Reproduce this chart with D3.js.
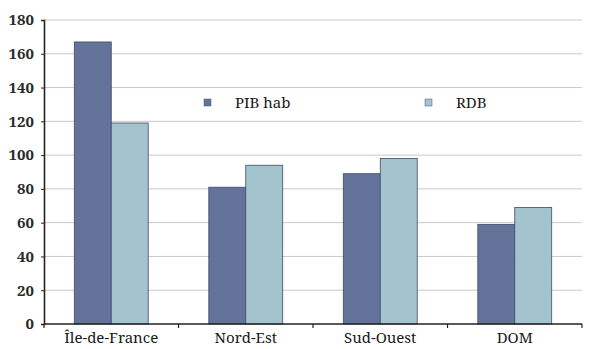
<!DOCTYPE html>
<html>
<head>
<meta charset="utf-8">
<script src="https://cdn.jsdelivr.net/npm/d3@7"></script>
<style>
  html, body { margin: 0; padding: 0; background: #fff; }
  svg { display: block; }
</style>
</head>
<body>
<svg id="chart" width="590" height="349"></svg>
<script>
// Regions and indices (base 100 = France)
const categories = ["Île-de-France", "Nord-Est", "Sud-Ouest", "DOM"];
const seriesNames = ["PIB hab", "RDB"];
const pibHab = [167, 81, 89, 59];
const rdb = [119, 94, 98, 69];
const yTicks = [0, 20, 40, 60, 80, 100, 120, 140, 160, 180];
const colors = ["#63739a", "#a3c4cc"];

const FONT = "Noto Serif";
const svg = d3.select("#chart");
const margin = { left: 44, right: 8, top: 20, bottom: 25 };
const width = 590, height = 349;

const x = d3.scaleBand().domain(categories)
  .range([margin.left, width - margin.right]).padding(0);
const xSub = d3.scaleBand().domain(seriesNames)
  .range([0, x.bandwidth()]).paddingInner(0).paddingOuter(0.82);
const y = d3.scaleLinear().domain([0, 180])
  .range([height - margin.bottom, margin.top]);

// Horizontal gridlines
svg.append("g").selectAll("line").data(yTicks.slice(1)).join("line")
  .attr("x1", margin.left).attr("x2", width - margin.right)
  .attr("y1", d => y(d)).attr("y2", d => y(d))
  .attr("stroke", "#c8c8c8").attr("stroke-width", 1);

// Legend
const legend = svg.append("g");
const legendX = [204, 425];
seriesNames.forEach((name, i) => {
  legend.append("rect").attr("x", legendX[i]).attr("y", 99)
    .attr("width", 7).attr("height", 7)
    .attr("fill", colors[i]).attr("stroke", "#4a5a80").attr("stroke-width", 0.5);
  legend.append("text").attr("x", legendX[i] + 31).attr("y", 108)
    .attr("font-family", FONT).attr("font-size", 15).attr("fill", "#1a1a1a")
    .text(name);
});

// Bars
const data = categories.map((c, i) => ({ cat: c, vals: [pibHab[i], rdb[i]] }));
const groups = svg.append("g").selectAll("g").data(data).join("g")
  .attr("transform", d => `translate(${x(d.cat)},0)`);
groups.selectAll("rect")
  .data(d => d.vals.map((v, i) => ({ name: seriesNames[i], v, i })))
  .join("rect")
  .attr("x", d => xSub(d.name))
  .attr("width", xSub.bandwidth())
  .attr("y", d => y(d.v))
  .attr("height", d => y(0) - y(d.v))
  .attr("fill", d => colors[d.i])
  .attr("stroke", "#3f4a6a").attr("stroke-width", 0.8);

// Y axis
const yAxis = svg.append("g").attr("transform", `translate(${margin.left},0)`)
  .call(d3.axisLeft(y).tickValues(yTicks).tickSize(3).tickPadding(7));
yAxis.attr("font-family", FONT);
yAxis.select(".domain").attr("stroke", "#222").attr("stroke-width", 1.6);
yAxis.selectAll(".tick line").attr("stroke", "#222");
yAxis.selectAll("text").attr("font-family", FONT).attr("font-size", 15)
  .attr("font-weight", "bold").attr("fill", "#2a2a2a");

// X axis with ticks at category boundaries
const xAxisG = svg.append("g").attr("transform", `translate(0,${y(0)})`);
xAxisG.append("line").attr("x1", margin.left).attr("x2", width - margin.right)
  .attr("stroke", "#222").attr("stroke-width", 1.4);
const bounds = categories.map(c => x(c)).concat([x(categories[categories.length - 1]) + x.bandwidth()]);
xAxisG.selectAll(".bt").data(bounds).join("line").attr("class", "bt")
  .attr("x1", d => d).attr("x2", d => d).attr("y1", 0).attr("y2", 4)
  .attr("stroke", "#222").attr("stroke-width", 1.2);
xAxisG.selectAll(".lbl").data(categories).join("text").attr("class", "lbl")
  .attr("x", d => x(d) + x.bandwidth() / 2).attr("y", 19)
  .attr("text-anchor", "middle").attr("font-family", FONT)
  .attr("font-size", 15).attr("fill", "#1a1a1a").text(d => d);
</script>
</body>
</html>
